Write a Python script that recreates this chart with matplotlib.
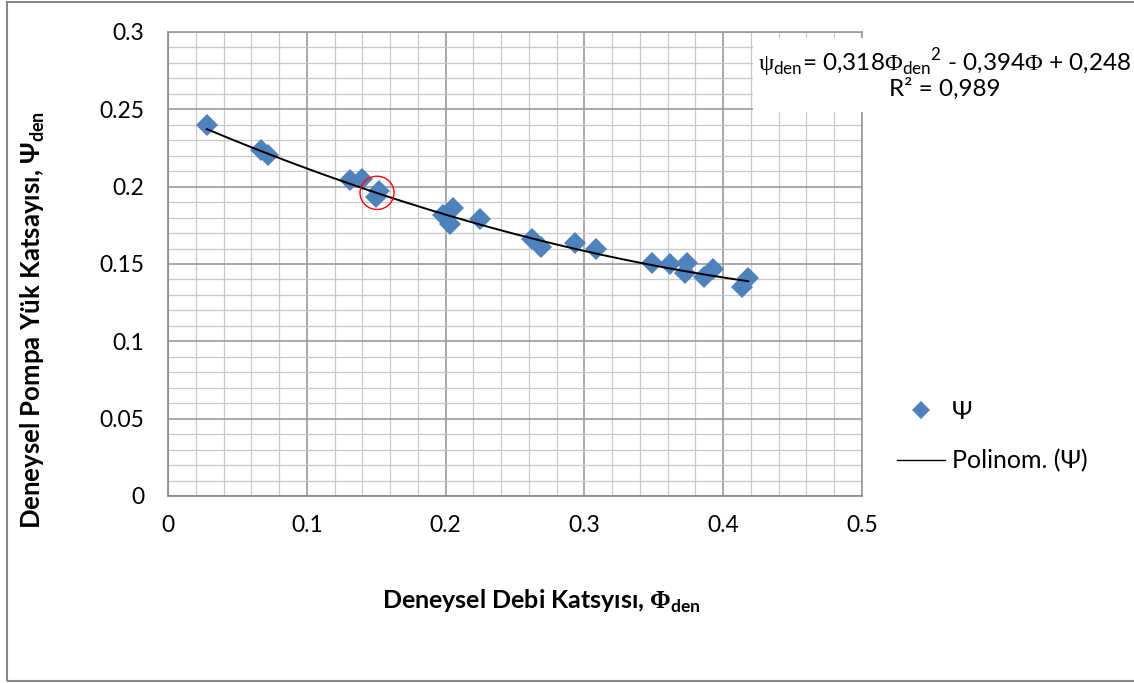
import numpy as np
import matplotlib
matplotlib.use("Agg")
import matplotlib.pyplot as plt
from matplotlib.patches import Rectangle, Ellipse
from matplotlib.lines import Line2D

plt.rcParams['font.family'] = ['Lato', 'DejaVu Sans']
plt.rcParams['mathtext.fontset'] = 'custom'
plt.rcParams['mathtext.rm'] = 'Lato'
plt.rcParams['mathtext.bf'] = 'Lato:bold'
plt.rcParams['mathtext.sf'] = 'Lato'
plt.rcParams['mathtext.cal'] = 'Liberation Serif'
plt.rcParams['mathtext.tt'] = 'Liberation Serif:bold'

# measured points (flow coefficient vs head coefficient)
phi = [0.028, 0.067, 0.072, 0.131, 0.140, 0.152, 0.150, 0.198, 0.205, 0.203, 0.225,
       0.262, 0.269, 0.293, 0.308, 0.349, 0.362, 0.374, 0.3725, 0.386, 0.393, 0.418, 0.4136]
psi = [0.240, 0.2237, 0.2205, 0.204, 0.205, 0.197, 0.193, 0.182, 0.186, 0.176, 0.179,
       0.166, 0.161, 0.1636, 0.160, 0.1506, 0.150, 0.1506, 0.144, 0.1416, 0.1468, 0.141, 0.135]

# 2nd order trend line from the chart label
coef = [0.318, -0.394, 0.248]
r2 = "0,989"

# highlighted point
circle_xy = [0.1506, 0.196]

xticks = [0, 0.1, 0.2, 0.3, 0.4, 0.5]
xtick_labels = ["0", "0.1", "0.2", "0.3", "0.4", "0.5"]
yticks = [0, 0.05, 0.1, 0.15, 0.2, 0.25, 0.3]
ytick_labels = ["0", "0.05", "0.1", "0.15", "0.2", "0.25", "0.3"]

W, H = 1134, 683
fig = plt.figure(figsize=(W / 100, H / 100), dpi=100)
ax = fig.add_axes([168 / W, 1 - 496 / H, (862 - 168) / W, (496 - 32) / H])

blue = "#4F81BD"
ax.plot(phi, psi, linestyle="none", marker="D", markersize=11, color=blue,
        markeredgewidth=0, zorder=3, clip_on=False)

xf = np.linspace(min(phi), max(phi), 200)
ax.plot(xf, np.polyval(coef, xf), color="black", lw=1.4, zorder=4)

ax.add_patch(Ellipse(circle_xy, 0.0245, 0.0215, fill=False, edgecolor="red", lw=1.0, zorder=5))

ax.set_xlim(0, 0.5)
ax.set_ylim(0, 0.3)
ax.set_xticks(xticks)
ax.set_xticklabels(xtick_labels)
ax.set_yticks(yticks)
ax.set_yticklabels(ytick_labels)
ax.set_xticks(np.arange(0, 0.5, 0.02), minor=True)
ax.set_yticks(np.arange(0, 0.3, 0.01), minor=True)
ax.tick_params(which="both", length=0)
ax.tick_params(axis="x", pad=14, labelsize=16.5)
ax.tick_params(axis="y", pad=17, labelsize=16.5)
ax.grid(which="minor", color="#c8c8c8", lw=0.9)
ax.grid(which="major", color="#9a9a9a", lw=1.2)
ax.set_axisbelow(True)
for s in ax.spines.values():
    s.set_color("#9a9a9a")
    s.set_linewidth(1.2)
ax.spines["left"].set_color("#868686")
ax.spines["bottom"].set_color("#868686")

# axis titles
fig.text(541 / W, 1 - 601 / H, r"Deneysel Debi Katsyısı, $\mathtt{\Phi}_{\mathbf{den}}$",
         ha="center", va="center", fontsize=18, fontweight="bold")
fig.text(33 / W, 1 - 320 / H, r"Deneysel Pompa Yük Katsayısı, $\mathbf{Ψ}_{\mathbf{den}}$",
         ha="center", va="center", rotation=90, fontsize=18.5, fontweight="bold")

# equation box
fig.patches.append(Rectangle((753 / W, 1 - 112 / H), (W - 753) / W, 74 / H,
                             transform=fig.transFigure, facecolor="white",
                             edgecolor="none", zorder=10))
fig.text(945 / W, 1 - 63 / H,
         r"$\mathcal{\psi}_{\mathrm{den}}$= 0,318$\mathcal{\Phi}_{\mathrm{den}}$$^{\mathrm{2}}$ - 0,394$\mathcal{\Phi}$ + 0,248",
         ha="center", va="center", fontsize=17.5, zorder=11)
fig.text(945 / W, 1 - 89 / H, "R² = " + r2, ha="center", va="center", fontsize=17.5, zorder=11)

# legend
handles = [Line2D([], [], linestyle="none", marker="D", markersize=9, color=blue, markeredgewidth=0),
           Line2D([], [], color="black", lw=1.0)]
fig.legend(handles, ["Ψ", "Polinom. (Ψ)"], loc="upper left",
           bbox_to_anchor=(897 / W, 1 - 400 / H), frameon=False, fontsize=18,
           borderpad=0, borderaxespad=0, handlelength=1.9, handletextpad=0.3,
           labelspacing=1.05)

# outer chart border
fig.patches.append(Rectangle((7 / W, 1 - 681 / H), 1.0, 679 / H, transform=fig.transFigure,
                             fill=False, edgecolor="#888888", lw=1.5, zorder=0))

fig.savefig("out.png", dpi=100)
